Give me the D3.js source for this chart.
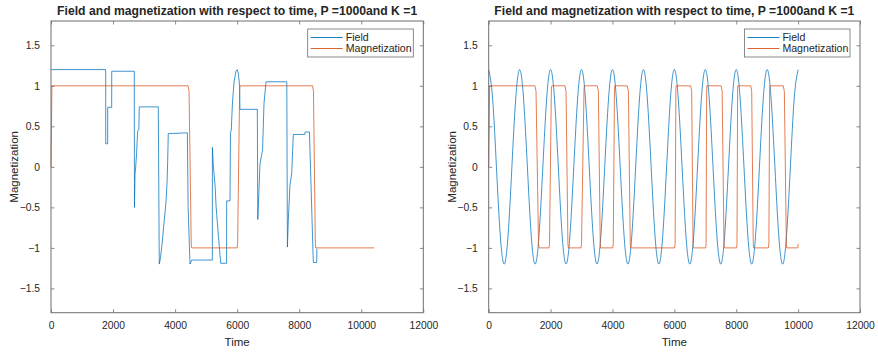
<!DOCTYPE html>
<html>
<head>
<meta charset="utf-8">
<script src="https://cdn.jsdelivr.net/npm/d3@7"></script>
<style>
    body { margin: 0; background: #fff; }
    svg text { font-family: "Liberation Sans", Arial, sans-serif; fill: #262626; }
</style>
</head>
<body>
<div id="chart"></div>
<script>
// values
var titleText = "Field and magnetization with respect to time, P =1000and K =1";
var seriesNames = ["Field", "Magnetization"];
var xTicks = [0, 2000, 4000, 6000, 8000, 10000, 12000];
var yTicks = [-1.5, -1, -0.5, 0, 0.5, 1, 1.5];
var xDomain = [0, 12000];
var yDomain = [-1.8, 1.8];

// left panel: field [time, value]
var fieldLeft = [
    [0, 1.2], [1763, 1.2], [1765, 0.285], [1827, 0.285], [1829, 0.735], [1956, 0.735], [1958, 1.18],
    [2684, 1.18], [2690, -0.5], [2707, -0.1], [2730, 0.0], [2761, 0.18], [2775, 0.3], [2793, 0.44],
    [2830, 0.46], [2846, 0.74], [3458, 0.74], [3490, -1.2], [3530, -1.12], [3580, -0.95], [3640, -0.7],
    [3706, -0.44], [3740, -0.2], [3760, 0.05], [3780, 0.41], [4395, 0.42], [4420, -0.5], [4480, -1.2],
    [4535, -1.15], [5200, -1.15], [5202, 0.24], [5235, 0.0], [5290, -0.24], [5320, -0.48], [5395, -0.85],
    [5470, -1.19], [5660, -1.19], [5662, -0.42], [5770, -0.42], [5785, 0.42], [5810, 0.45], [5850, 0.8],
    [5900, 1.05], [5960, 1.18], [6005, 1.2], [6040, 1.15], [6080, 0.99], [6090, 0.71], [6650, 0.71],
    [6665, -0.65], [6700, -0.32], [6735, 0.03], [6820, 0.21], [6865, 0.78], [6930, 1.05], [7600, 1.05],
    [7620, -0.99], [7650, -0.65], [7700, -0.24], [7760, -0.07], [7810, 0.4], [8180, 0.4], [8190, 0.43],
    [8330, 0.43], [8455, -1.18], [8565, -1.18], [8570, -1.01]
];

// left panel: magnetization [time, value]
var magLeft = [
    [0, 0], [30, 1], [4420, 1], [4450, 0.93], [4520, -0.95], [4535, -1], [6000, -1], [6015, -0.95],
    [6080, 0.95], [6090, 1], [8430, 1], [8460, 0.93], [8520, -0.95], [8530, -1], [10420, -1]
];

// right panel: field sampled every 125 time units (smooth curve through them)
var fieldRightStep = 125;
var fieldRight = [
    1.2, 0.85, 0, -0.85, -1.2, -0.85, 0, 0.85,
    1.2, 0.85, 0, -0.85, -1.2, -0.85, 0, 0.85,
    1.2, 0.85, 0, -0.85, -1.2, -0.85, 0, 0.85,
    1.2, 0.85, 0, -0.85, -1.2, -0.85, 0, 0.85,
    1.2, 0.85, 0, -0.85, -1.2, -0.85, 0, 0.85,
    1.2, 0.85, 0, -0.85, -1.2, -0.85, 0, 0.85,
    1.2, 0.85, 0, -0.85, -1.2, -0.85, 0, 0.85,
    1.2, 0.85, 0, -0.85, -1.2, -0.85, 0, 0.85,
    1.2, 0.85, 0, -0.85, -1.2, -0.85, 0, 0.85,
    1.2, 0.85, 0, -0.85, -1.2, -0.85, 0, 0.85,
    1.2
];

// right panel: magnetization [time, value]
var magRight = [
    [0, 0], [30, 1], [1496, 1], [1530, 0.93], [1610, -0.95], [1626, -1], [1950, -1], [1965, -0.95],
    [2025, 0.95], [2036, 1], [2466, 1], [2500, 0.93], [2560, -0.95], [2574, -1], [2984, -1], [3000, -0.95],
    [3080, 0.95], [3090, 1], [3511, 1], [3545, 0.93], [3605, -0.95], [3620, -1], [4010, -1], [4025, -0.95],
    [4065, 0.95], [4075, 1], [4480, 1], [4515, 0.93], [4575, -0.95], [4590, -1], [6010, -1], [6025, -0.95],
    [6050, 0.95], [6060, 1], [6530, 1], [6560, 0.93], [6605, -0.95], [6615, -1], [7015, -1], [7025, -0.95],
    [7045, 0.95], [7050, 1], [7510, 1], [7545, 0.93], [7605, -0.95], [7620, -1], [8015, -1], [8025, -0.95],
    [8045, 0.95], [8050, 1], [8470, 1], [8500, 0.93], [8550, -0.95], [8560, -1], [9040, -1], [9055, -0.95],
    [9080, 0.95], [9090, 1], [9520, 1], [9555, 0.93], [9620, -0.95], [9630, -1], [9990, -1], [10000, -0.95]
];

var colors = ["#0072BD", "#D95319"];

var svg = d3.select("#chart").append("svg")
    .attr("width", 878)
    .attr("height", 354);

var fieldRightPts = fieldRight.map(function (v, i) { return [i * fieldRightStep, v]; });

drawPanel({left: 51, right: 423.3, top: 21, bottom: 312.7}, fieldLeft, d3.curveLinear, magLeft);
drawPanel({left: 488.7, right: 860, top: 21, bottom: 312.7}, fieldRightPts, d3.curveNatural, magRight);

function drawPanel(box, field, fieldCurve, mag) {
    var x = d3.scaleLinear().domain(xDomain).range([box.left, box.right]);
    var y = d3.scaleLinear().domain(yDomain).range([box.bottom, box.top]);
    var tickLen = 3.5;
    var g = svg.append("g");

    // lines first so the box sits on top
    var fieldLine = d3.line()
        .x(function (d) { return x(d[0]); })
        .y(function (d) { return y(d[1]); })
        .curve(fieldCurve);
    var magLine = d3.line()
        .x(function (d) { return x(d[0]); })
        .y(function (d) { return y(d[1]); });

    g.append("path")
        .attr("d", fieldLine(field))
        .attr("fill", "none")
        .attr("stroke", colors[0])
        .attr("stroke-width", 0.75);
    g.append("path")
        .attr("d", magLine(mag))
        .attr("fill", "none")
        .attr("stroke", colors[1])
        .attr("stroke-width", 0.75);

    // axes: bottom/left with labels, top/right mirrored ticks only
    var bottom = g.append("g")
        .attr("transform", "translate(0," + box.bottom + ")")
        .call(d3.axisBottom(x).tickValues(xTicks).tickSizeInner(-tickLen).tickSizeOuter(0).tickPadding(9)
            .tickFormat(d3.format("d")));
    var top = g.append("g")
        .attr("transform", "translate(0," + box.top + ")")
        .call(d3.axisTop(x).tickValues(xTicks).tickSizeInner(-tickLen).tickSizeOuter(0).tickFormat(""));
    var left = g.append("g")
        .attr("transform", "translate(" + box.left + ",0)")
        .call(d3.axisLeft(y).tickValues(yTicks).tickSizeInner(-tickLen).tickSizeOuter(0).tickPadding(11)
            .tickFormat(function (d) { return d3.format("")(d); }));
    var right = g.append("g")
        .attr("transform", "translate(" + box.right + ",0)")
        .call(d3.axisRight(y).tickValues(yTicks).tickSizeInner(-tickLen).tickSizeOuter(0).tickFormat(""));

    [bottom, top, left, right].forEach(function (a) {
        a.select(".domain").remove();
        a.selectAll("line").attr("stroke", "#6e6e6e").attr("stroke-width", 0.8);
        a.selectAll("text").attr("font-size", 10.3).attr("fill", "#262626")
            .style("font-family", "'Liberation Sans', Arial, sans-serif");
    });

    g.append("rect")
        .attr("x", box.left)
        .attr("y", box.top)
        .attr("width", box.right - box.left)
        .attr("height", box.bottom - box.top)
        .attr("fill", "none")
        .attr("stroke", "#6e6e6e")
        .attr("stroke-width", 1);

    var cx = (box.left + box.right) / 2;
    g.append("text")
        .attr("x", cx)
        .attr("y", 15)
        .attr("text-anchor", "middle")
        .attr("font-size", 12.2)
        .attr("font-weight", "bold")
        .attr("fill", "#000")
        .text(titleText);

    g.append("text")
        .attr("x", cx)
        .attr("y", 346)
        .attr("text-anchor", "middle")
        .attr("font-size", 11.5)
        .text("Time");

    g.append("text")
        .attr("transform", "translate(" + (box.left - 33) + "," + ((box.top + box.bottom) / 2) + ") rotate(-90)")
        .attr("text-anchor", "middle")
        .attr("font-size", 11.5)
        .text("Magnetization");

    // legend box in the top right corner
    var lw = 105.6, lh = 28;
    var lx = box.right - 10 - lw, ly = 29;
    var legend = g.append("g").attr("transform", "translate(" + lx + "," + ly + ")");
    legend.append("rect")
        .attr("width", lw)
        .attr("height", lh)
        .attr("fill", "#fff")
        .attr("stroke", "#6e6e6e")
        .attr("stroke-width", 0.8);
    seriesNames.forEach(function (name, i) {
        var yy = 8.5 + i * 11;
        legend.append("line")
            .attr("x1", 3).attr("x2", 35)
            .attr("y1", yy).attr("y2", yy)
            .attr("stroke", colors[i])
            .attr("stroke-width", 0.9);
        legend.append("text")
            .attr("x", 38)
            .attr("y", yy + 3.7)
            .attr("font-size", 10.6)
            .text(name);
    });
}
</script>
</body>
</html>
